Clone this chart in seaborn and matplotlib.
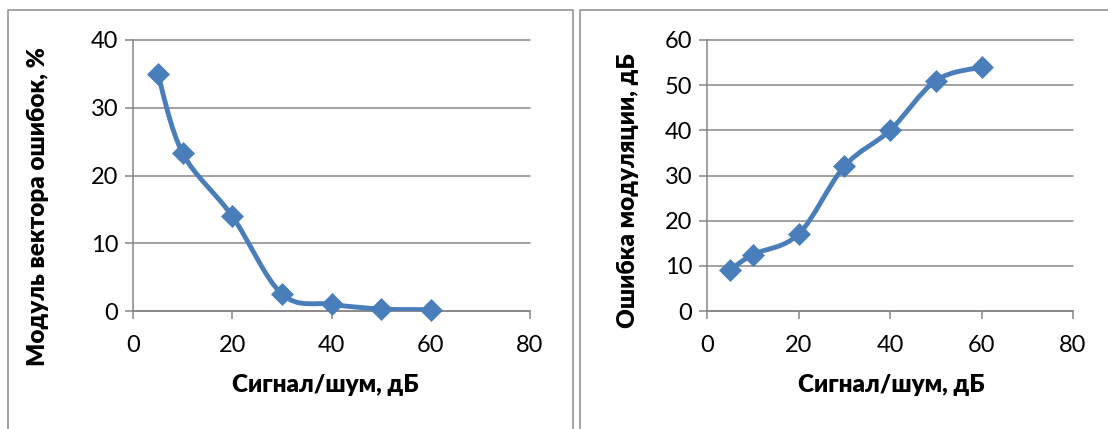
import numpy as np
import matplotlib
matplotlib.use("Agg")
import matplotlib.pyplot as plt
import seaborn as sns
from matplotlib.path import Path
from matplotlib.patches import PathPatch
from matplotlib.lines import Line2D

# Measured values
snr_db = [5, 10, 20, 30, 40, 50, 60]
evm_pct = [35, 23.3, 14, 2.5, 1.0, 0.3, 0.2]
mer_db = [9, 12.5, 17, 32, 40, 51, 54]

x_label = "Сигнал/шум, дБ"
evm_label = "Модуль вектора ошибок, %"
mer_label = "Ошибка модуляции, дБ"
x_ticks = [0, 20, 40, 60, 80]
evm_ticks = [0, 10, 20, 30, 40]
mer_ticks = [0, 10, 20, 30, 40, 50, 60]

LINE = "#4A7EBB"
GRID = "#868686"
FRAME = "#8C8C8C"

sns.set_theme(style="white")
plt.rcParams["font.family"] = ["Lato", "DejaVu Sans"]

W, H = 1108, 429
fig = plt.figure(figsize=(W / 100, H / 100), dpi=100)


def px_rect(x0, y_top, x1, y_bot):
    return [x0 / W, 1 - y_bot / H, (x1 - x0) / W, (y_bot - y_top) / H]


def smooth_path(xs, ys):
    """Cubic Bezier through the points (Catmull-Rom style smoothing)."""
    pts = np.column_stack([xs, ys]).astype(float)
    n = len(pts)
    verts = [pts[0]]
    codes = [Path.MOVETO]
    for i in range(n - 1):
        p0 = pts[max(i - 1, 0)]
        p1 = pts[i]
        p2 = pts[i + 1]
        p3 = pts[min(i + 2, n - 1)]
        verts += [p1 + (p2 - p0) / 6, p2 - (p3 - p1) / 6, p2]
        codes += [Path.CURVE4] * 3
    return Path(verts, codes)


def draw_panel(ax, y, yticks, ylabel, ylab_pos, xlab_pos):
    ax.set_xlim(0, 80)
    ax.set_ylim(0, yticks[-1])
    ax.set_xticks(x_ticks)
    ax.set_yticks(yticks)

    ax.add_patch(PathPatch(smooth_path(snr_db, y), facecolor="none",
                           edgecolor=LINE, lw=3.5, capstyle="round",
                           joinstyle="round", zorder=3))
    sns.scatterplot(x=snr_db, y=y, ax=ax, marker="D", s=125, color=LINE,
                    edgecolor=LINE, linewidth=0.5, zorder=4, clip_on=False)

    ax.yaxis.grid(True, color=GRID, lw=1.1)
    ax.xaxis.grid(False)
    for gl in ax.get_ygridlines():
        gl.set_clip_on(False)
    for side in ("top", "right"):
        ax.spines[side].set_visible(False)
    for side in ("left", "bottom"):
        ax.spines[side].set_color(GRID)
        ax.spines[side].set_linewidth(1.1)

    ax.tick_params(axis="both", direction="out", length=5.5, width=1.1,
                   color=GRID, labelsize=17, labelcolor="black")
    ax.tick_params(axis="x", bottom=True, pad=12)
    ax.tick_params(axis="y", left=True, pad=5)

    ax.set_xlabel(x_label, fontsize=17.5, fontweight="heavy", color="black")
    ax.xaxis.set_label_coords(*xlab_pos)
    ax.xaxis.label.set_va("center")
    ax.set_ylabel(ylabel, fontsize=17.5, fontweight="heavy", color="black",
                  va="center")
    ax.yaxis.set_label_coords(*ylab_pos)


ax1 = fig.add_axes(px_rect(133, 40, 530, 311))
draw_panel(ax1, evm_pct, evm_ticks, evm_label, (-0.239, 0.384), (0.484, -0.273))

ax2 = fig.add_axes(px_rect(707, 40, 1073, 311))
draw_panel(ax2, mer_db, mer_ticks, mer_label, (-0.216, 0.443), (0.503, -0.273))

# Chart-area frames around each panel
def frame(xs, ys):
    fig.add_artist(Line2D([x / W for x in xs], [1 - yv / H for yv in ys],
                          transform=fig.transFigure, color=FRAME, lw=1.1,
                          clip_on=False))

frame([7.5, 7.5, 572.5, 572.5], [440, 10, 10, 440])
frame([580, 580, 1120], [440, 10, 10])

fig.savefig("out.png", dpi=100)
